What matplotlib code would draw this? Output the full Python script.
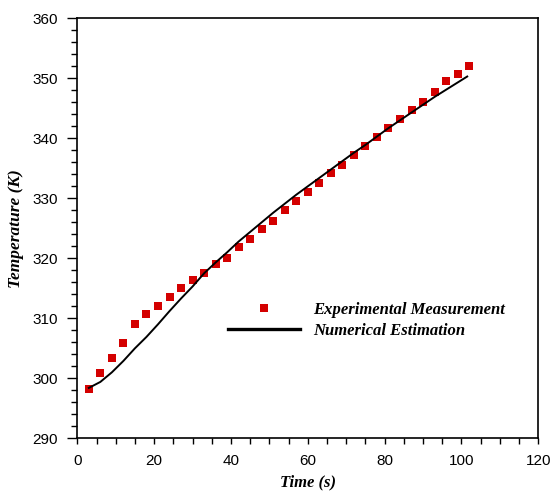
import matplotlib
matplotlib.use("Agg")
import matplotlib.pyplot as plt
from matplotlib.ticker import MultipleLocator

# experimental measurement (time s, temperature K)
exp_time = [3, 6, 9, 12, 15, 18, 21, 24, 27, 30, 33, 36, 39, 42, 45, 48, 51,
            54, 57, 60, 63, 66, 69, 72, 75, 78, 81, 84, 87, 90, 93, 96, 99, 102]
exp_temp = [298.2, 300.9, 303.4, 305.9, 309.1, 310.8, 312.1, 313.5, 315.1,
            316.4, 317.5, 319.0, 320.1, 321.9, 323.3, 324.9, 326.3, 328.0,
            329.5, 331.0, 332.6, 334.2, 335.5, 337.2, 338.7, 340.3, 341.7,
            343.2, 344.7, 346.1, 347.8, 349.6, 350.7, 352.0]

# numerical estimation
num_time = [3, 6, 9, 12, 15, 18, 21, 24, 27, 30, 33, 36, 39, 42, 45, 48, 51,
            54, 57, 60, 63, 66, 69, 72, 75, 78, 81, 84, 87, 90, 93, 96, 99, 101.5]
num_temp = [298.4, 299.4, 301.0, 302.9, 305.0, 306.9, 309.0, 311.2, 313.3,
            315.3, 317.5, 319.3, 321.0, 322.8, 324.4, 326.0, 327.6, 329.1,
            330.6, 332.0, 333.4, 334.8, 336.2, 337.6, 338.9, 340.3, 341.7,
            343.0, 344.3, 345.6, 346.9, 348.1, 349.3, 350.3]

sans = "Liberation Sans"
serif = "Liberation Serif"

fig = plt.figure(figsize=(5.53, 4.91), dpi=100)
ax = fig.add_axes([0.1398, 0.1073, 0.8336, 0.8554])

ax.plot(exp_time, exp_temp, linestyle="none", marker="s", markersize=5.2,
        color="#d40000", markeredgewidth=0, label="Experimental Measurement")
ax.plot(num_time, num_temp, color="black", linewidth=1.4,
        label="Numerical Estimation")

ax.set_xlim(0, 120)
ax.set_ylim(290, 360)
ax.xaxis.set_major_locator(MultipleLocator(20))
ax.xaxis.set_minor_locator(MultipleLocator(5))
ax.yaxis.set_major_locator(MultipleLocator(10))
ax.yaxis.set_minor_locator(MultipleLocator(2))

ax.tick_params(axis="y", which="major", direction="out", length=7, width=1,
               labelsize=11, pad=7)
ax.tick_params(axis="y", which="minor", direction="out", length=4, width=1)
ax.tick_params(axis="x", which="both", direction="out", length=4, width=1,
               labelsize=11, pad=7)
for lab in ax.get_xticklabels() + ax.get_yticklabels():
    lab.set_family(sans)
for sp in ax.spines.values():
    sp.set_linewidth(1.2)

ax.set_xlabel("Time (s)", family=serif, style="italic", weight="bold",
              fontsize=12, labelpad=5)
ax.set_ylabel("Temperature (K)", family=serif, style="italic", weight="bold",
              fontsize=12.5, labelpad=6)

leg = ax.legend(loc="upper left", bbox_to_anchor=(228 / 553, 1 - 302 / 491),
                bbox_transform=fig.transFigure, frameon=False,
                handlelength=4.3, handletextpad=0.8, labelspacing=0.3,
                borderpad=0, borderaxespad=0,
                prop={"family": serif, "style": "italic", "weight": "bold",
                      "size": 12})
leg.get_lines()[1].set_linewidth(2.4)

fig.savefig("out.png", dpi=100)
